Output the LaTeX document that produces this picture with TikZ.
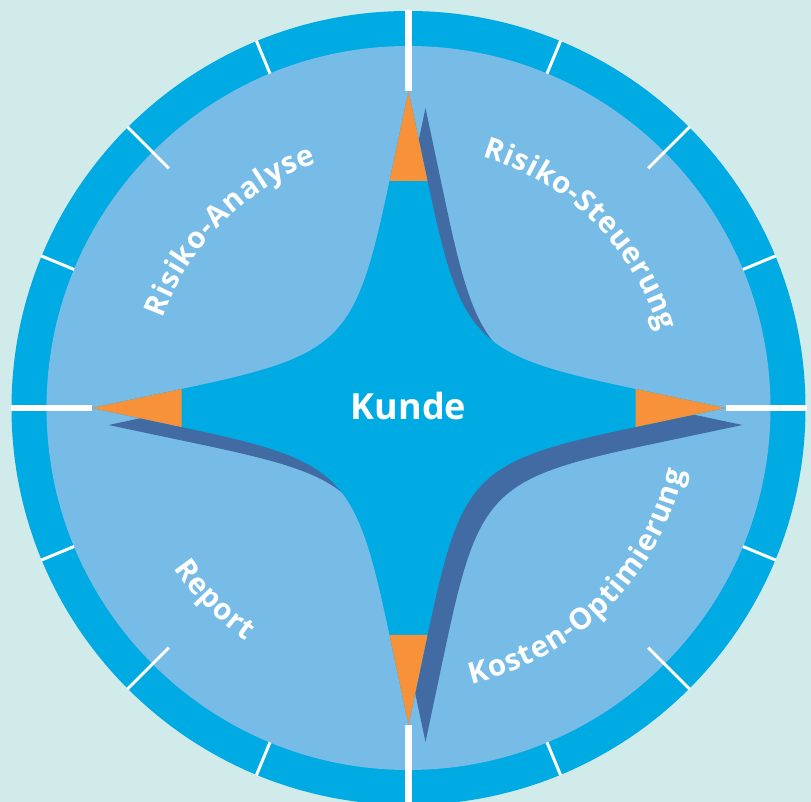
\documentclass[tikz,border=0pt]{standalone}
\usepackage{fontspec}
\setmainfont{Open Sans}
\usetikzlibrary{decorations.text}
\definecolor{bgc}{HTML}{D1EAEA}
\definecolor{ringc}{HTML}{00AAE3}
\definecolor{innerc}{HTML}{77BCE7}
\definecolor{shadowc}{HTML}{436BA3}
\definecolor{orangec}{HTML}{F7923A}
\newcommand\arcfont{\bfseries\fontsize{29.5}{29.5}\selectfont\color{white}}
\newcommand\starshape{(0,317) -- (19,227) .. controls (53.2,65) and (65,53.2) .. (227,19) -- (317,0) -- (227,-19) .. controls (65,-53.2) and (53.2,-65) .. (19,-227) -- (0,-317) -- (-19,-227) .. controls (-53.2,-65) and (-65,-53.2) .. (-227,-19) -- (-317,0) -- (-227,19) .. controls (-65,53.2) and (-53.2,65) .. (-19,227) -- cycle}
\tikzset{
  bigbar/.style={white, line width=6.6pt},
  thintick/.style={white, line width=3pt},
  arctext/.style={decorate, decoration={text along path, text={|\arcfont|#1}, text align={fit to path}}}
}
\begin{document}
\begin{tikzpicture}[x=1pt,y=1pt]
\fill[bgc] (0,0) rectangle (811,802);
\useasboundingbox (0,0) rectangle (811,802);
\begin{scope}[shift={(408.5,394)}]
  \clip (-408.5,-394) rectangle (402.5,408);
  \fill[ringc] (0,0) circle (397);
  \fill[innerc] (0,0) circle (362);
  % shadow
  \fill[shadowc, shift={(17,-17)}] \starshape;
  % star
  \fill[ringc] \starshape;
  % orange tips
  \foreach \a in {0,90,180,270}{
    \fill[orangec, rotate=\a] (0,317) -- (19,227) -- (-19,227) -- cycle;
  }
  % white bars
  \foreach \a in {0,90,180,270}{
    \draw[bigbar] (\a:317) -- (\a:398);
  }
  \foreach \a in {22.5,67.5,112.5,157.5,202.5,247.5,292.5,337.5}{
    \draw[thintick] (\a:362) -- (\a:397.5);
  }
  \foreach \a in {45,135,225,315}{
    \draw[thintick] (\a:339) -- (\a:397.5);
  }
  % curved labels
  \path[arctext={Risiko-Analyse}] (160:262) arc[start angle=160, end angle=110.5, radius=262];
  \path[arctext={Risiko-Steuerung}] (73.5:262) arc[start angle=73.5, end angle=17, radius=262];
  \path[arctext={Kosten-Optimierung}] (-77.2:283) arc[start angle=-77.2, end angle=-13, radius=283];
  \path[arctext={Report}] (214.3:284) arc[start angle=214.3, end angle=235, radius=284];
  % center label
  \node[font=\bfseries\fontsize{36}{36}\selectfont, text=white, anchor=base, inner sep=0pt] (kunde) at (0,-12) {Kunde};
\end{scope}
\end{tikzpicture}
\end{document}
